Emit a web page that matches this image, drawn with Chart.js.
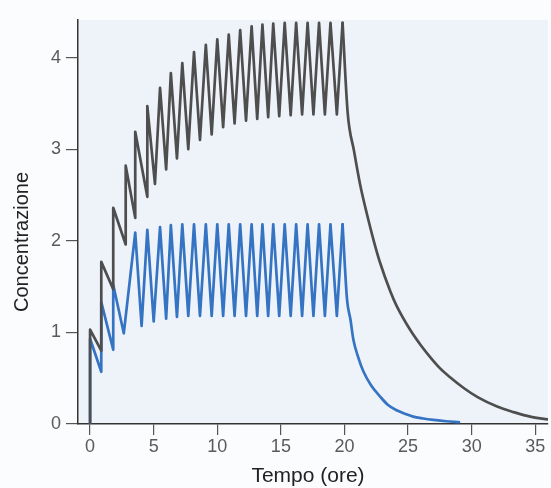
<!DOCTYPE html>
<html>
<head>
<meta charset="utf-8">
<script src="https://cdn.jsdelivr.net/npm/chart.js@4.4.1/dist/chart.umd.min.js"></script>
<style>
  html, body { margin: 0; padding: 0; background: #fbfcfe; }
  #wrap { width: 551px; height: 488px; }
</style>
</head>
<body>
<div id="wrap"><canvas id="c" width="551" height="488"></canvas></div>
<script>
// Repeated dosing: concentration vs time (hours), two drugs with different half-lives.

// Slow-elimination drug (grey): vertices of the dosing sawtooth
const grayTimes = [0, 0, 0.88, 0.88, 1.82, 1.82, 2.8, 2.8, 3.55, 3.55, 4.5, 4.5,
  5.1, 5.5, 5.98, 6.35, 6.83, 7.25, 7.72, 8.17, 8.64, 9.1, 9.56, 10.0, 10.46, 10.9,
  11.36, 11.8, 12.26, 12.7, 13.14, 13.55, 14.0, 14.4, 14.87, 15.3, 15.77, 16.2,
  16.67, 17.1, 17.56, 18.0, 18.46, 18.9, 19.4, 19.85];
const grayConc = [0, 1.03, 0.80, 1.77, 1.47, 2.36, 1.96, 2.82, 2.25, 3.19, 2.48, 3.47,
  2.62, 3.67, 2.78, 3.83, 2.90, 3.94, 3.00, 4.06, 3.10, 4.14, 3.16, 4.20, 3.24, 4.25,
  3.28, 4.30, 3.31, 4.34, 3.33, 4.36, 3.35, 4.37, 3.36, 4.38, 3.37, 4.38,
  3.38, 4.38, 3.38, 4.38, 3.38, 4.38, 3.38, 4.38];

// Slow drug: washout after the last dose
const grayTailTimes = [19.85, 20.25, 20.75, 21.25, 21.75, 22.3, 22.8, 23.6, 24.1, 25.2,
  26.0, 26.8, 27.5, 28.3, 29.4, 30.5, 32.0, 33.3, 34.6, 36.0];
const grayTailConc = [4.38, 3.40, 2.98, 2.60, 2.30, 2.00, 1.76, 1.45, 1.29, 1.02,
  0.86, 0.72, 0.61, 0.51, 0.39, 0.29, 0.19, 0.13, 0.08, 0.05];

// Fast-elimination drug (blue): vertices of the dosing sawtooth
const blueTimes = [0, 0, 0.88, 0.88, 1.82, 1.82, 2.65, 3.55, 4.05, 4.5, 5.0, 5.5,
  5.98, 6.35, 6.83, 7.25, 7.72, 8.17, 8.64, 9.1, 9.56, 10.0, 10.46, 10.9, 11.36, 11.8,
  12.26, 12.7, 13.14, 13.55, 14.0, 14.4, 14.87, 15.3, 15.77, 16.2, 16.67, 17.1,
  17.56, 18.0, 18.46, 18.9, 19.4, 19.85];
const blueConc = [0, 0.93, 0.57, 1.33, 0.81, 1.52, 0.99, 2.09, 1.07, 2.12, 1.12, 2.15,
  1.15, 2.17, 1.17, 2.18, 1.18, 2.18, 1.18, 2.18, 1.18, 2.18, 1.18, 2.18, 1.18, 2.18,
  1.18, 2.18, 1.18, 2.18, 1.18, 2.18, 1.18, 2.18, 1.18, 2.18, 1.18, 2.18,
  1.18, 2.18, 1.18, 2.18, 1.18, 2.18];

// Fast drug: washout after the last dose
const blueTailTimes = [19.85, 20.2, 20.47, 20.7, 21.1, 21.5, 22.1, 22.8, 23.4, 24.1,
  24.8, 25.4, 26.2, 27.0, 28.0, 29.0];
const blueTailConc = [2.18, 1.36, 1.14, 0.92, 0.72, 0.57, 0.42, 0.30, 0.21, 0.15,
  0.11, 0.08, 0.06, 0.045, 0.03, 0.02];

// Axis ticks and titles
const xTickValues = [0, 5, 10, 15, 20, 25, 30, 35];
const yTickValues = [0, 1, 2, 3, 4];
const xTitle = 'Tempo (ore)';
const yTitle = 'Concentrazione';

const GRAY = '#4e4e4e';
const BLUE = '#3573c3';
const FONT = '"Liberation Sans", Arial, Helvetica, sans-serif';

const pts = (xs, ys) => xs.map((x, i) => ({ x: x, y: ys[i] }));

const lineSet = (data, color, smooth) => ({
  data: data,
  borderColor: color,
  borderWidth: 2.7,
  pointRadius: 0,
  fill: false,
  tension: 0,
  cubicInterpolationMode: smooth ? 'monotone' : 'default',
  borderJoinStyle: 'round',
  borderCapStyle: 'round'
});

// Page and plot-area backgrounds, plus the two axis titles
const decor = {
  id: 'decor',
  beforeDraw(chart) {
    const { ctx, chartArea: a } = chart;
    ctx.save();
    ctx.fillStyle = '#fbfcfe';
    ctx.fillRect(0, 0, chart.width, chart.height);
    ctx.fillStyle = '#eef3fa';
    ctx.fillRect(a.left, a.top, a.right - a.left, a.bottom - a.top);
    ctx.restore();
  },
  afterDraw(chart) {
    const { ctx } = chart;
    ctx.save();
    ctx.fillStyle = '#222';
    ctx.font = '21px ' + FONT;
    ctx.textAlign = 'center';
    ctx.textBaseline = 'alphabetic';
    ctx.fillText(xTitle, 308, 482);
    ctx.translate(28, 242);
    ctx.rotate(-Math.PI / 2);
    ctx.font = '20px ' + FONT;
    ctx.fillText(yTitle, 0, 0);
    ctx.restore();
  }
};

new Chart(document.getElementById('c'), {
  type: 'line',
  data: {
    datasets: [
      lineSet(pts(grayTimes, grayConc), GRAY, false),
      lineSet(pts(grayTailTimes, grayTailConc), GRAY, true),
      lineSet(pts(blueTimes, blueConc), BLUE, false),
      lineSet(pts(blueTailTimes, blueTailConc), BLUE, true)
    ]
  },
  options: {
    responsive: false,
    animation: false,
    devicePixelRatio: 1,
    layout: { padding: { top: 20, right: 3, left: 0, bottom: 0 } },
    plugins: { legend: { display: false }, tooltip: { enabled: false } },
    scales: {
      x: {
        type: 'linear',
        min: -0.95,
        max: 36,
        afterBuildTicks: s => { s.ticks = xTickValues.map(v => ({ value: v })); },
        afterFit: s => { s.height = 64; },
        ticks: { color: '#5a5a5a', font: { family: FONT, size: 18 }, padding: 1, maxRotation: 0 },
        grid: { drawOnChartArea: false, drawTicks: true, tickLength: 11, color: '#555', lineWidth: 1.2 },
        border: { display: true, color: '#333', width: 1.5 }
      },
      y: {
        type: 'linear',
        min: 0,
        max: 4.41,
        afterBuildTicks: s => { s.ticks = yTickValues.map(v => ({ value: v })); },
        afterFit: s => { s.width = 78; },
        ticks: { color: '#5a5a5a', font: { family: FONT, size: 18 }, padding: 5 },
        grid: { drawOnChartArea: false, drawTicks: true, tickLength: 12, color: '#555', lineWidth: 1.2 },
        border: { display: true, color: '#333', width: 1.5 }
      }
    }
  },
  plugins: [decor]
});
</script>
</body>
</html>
